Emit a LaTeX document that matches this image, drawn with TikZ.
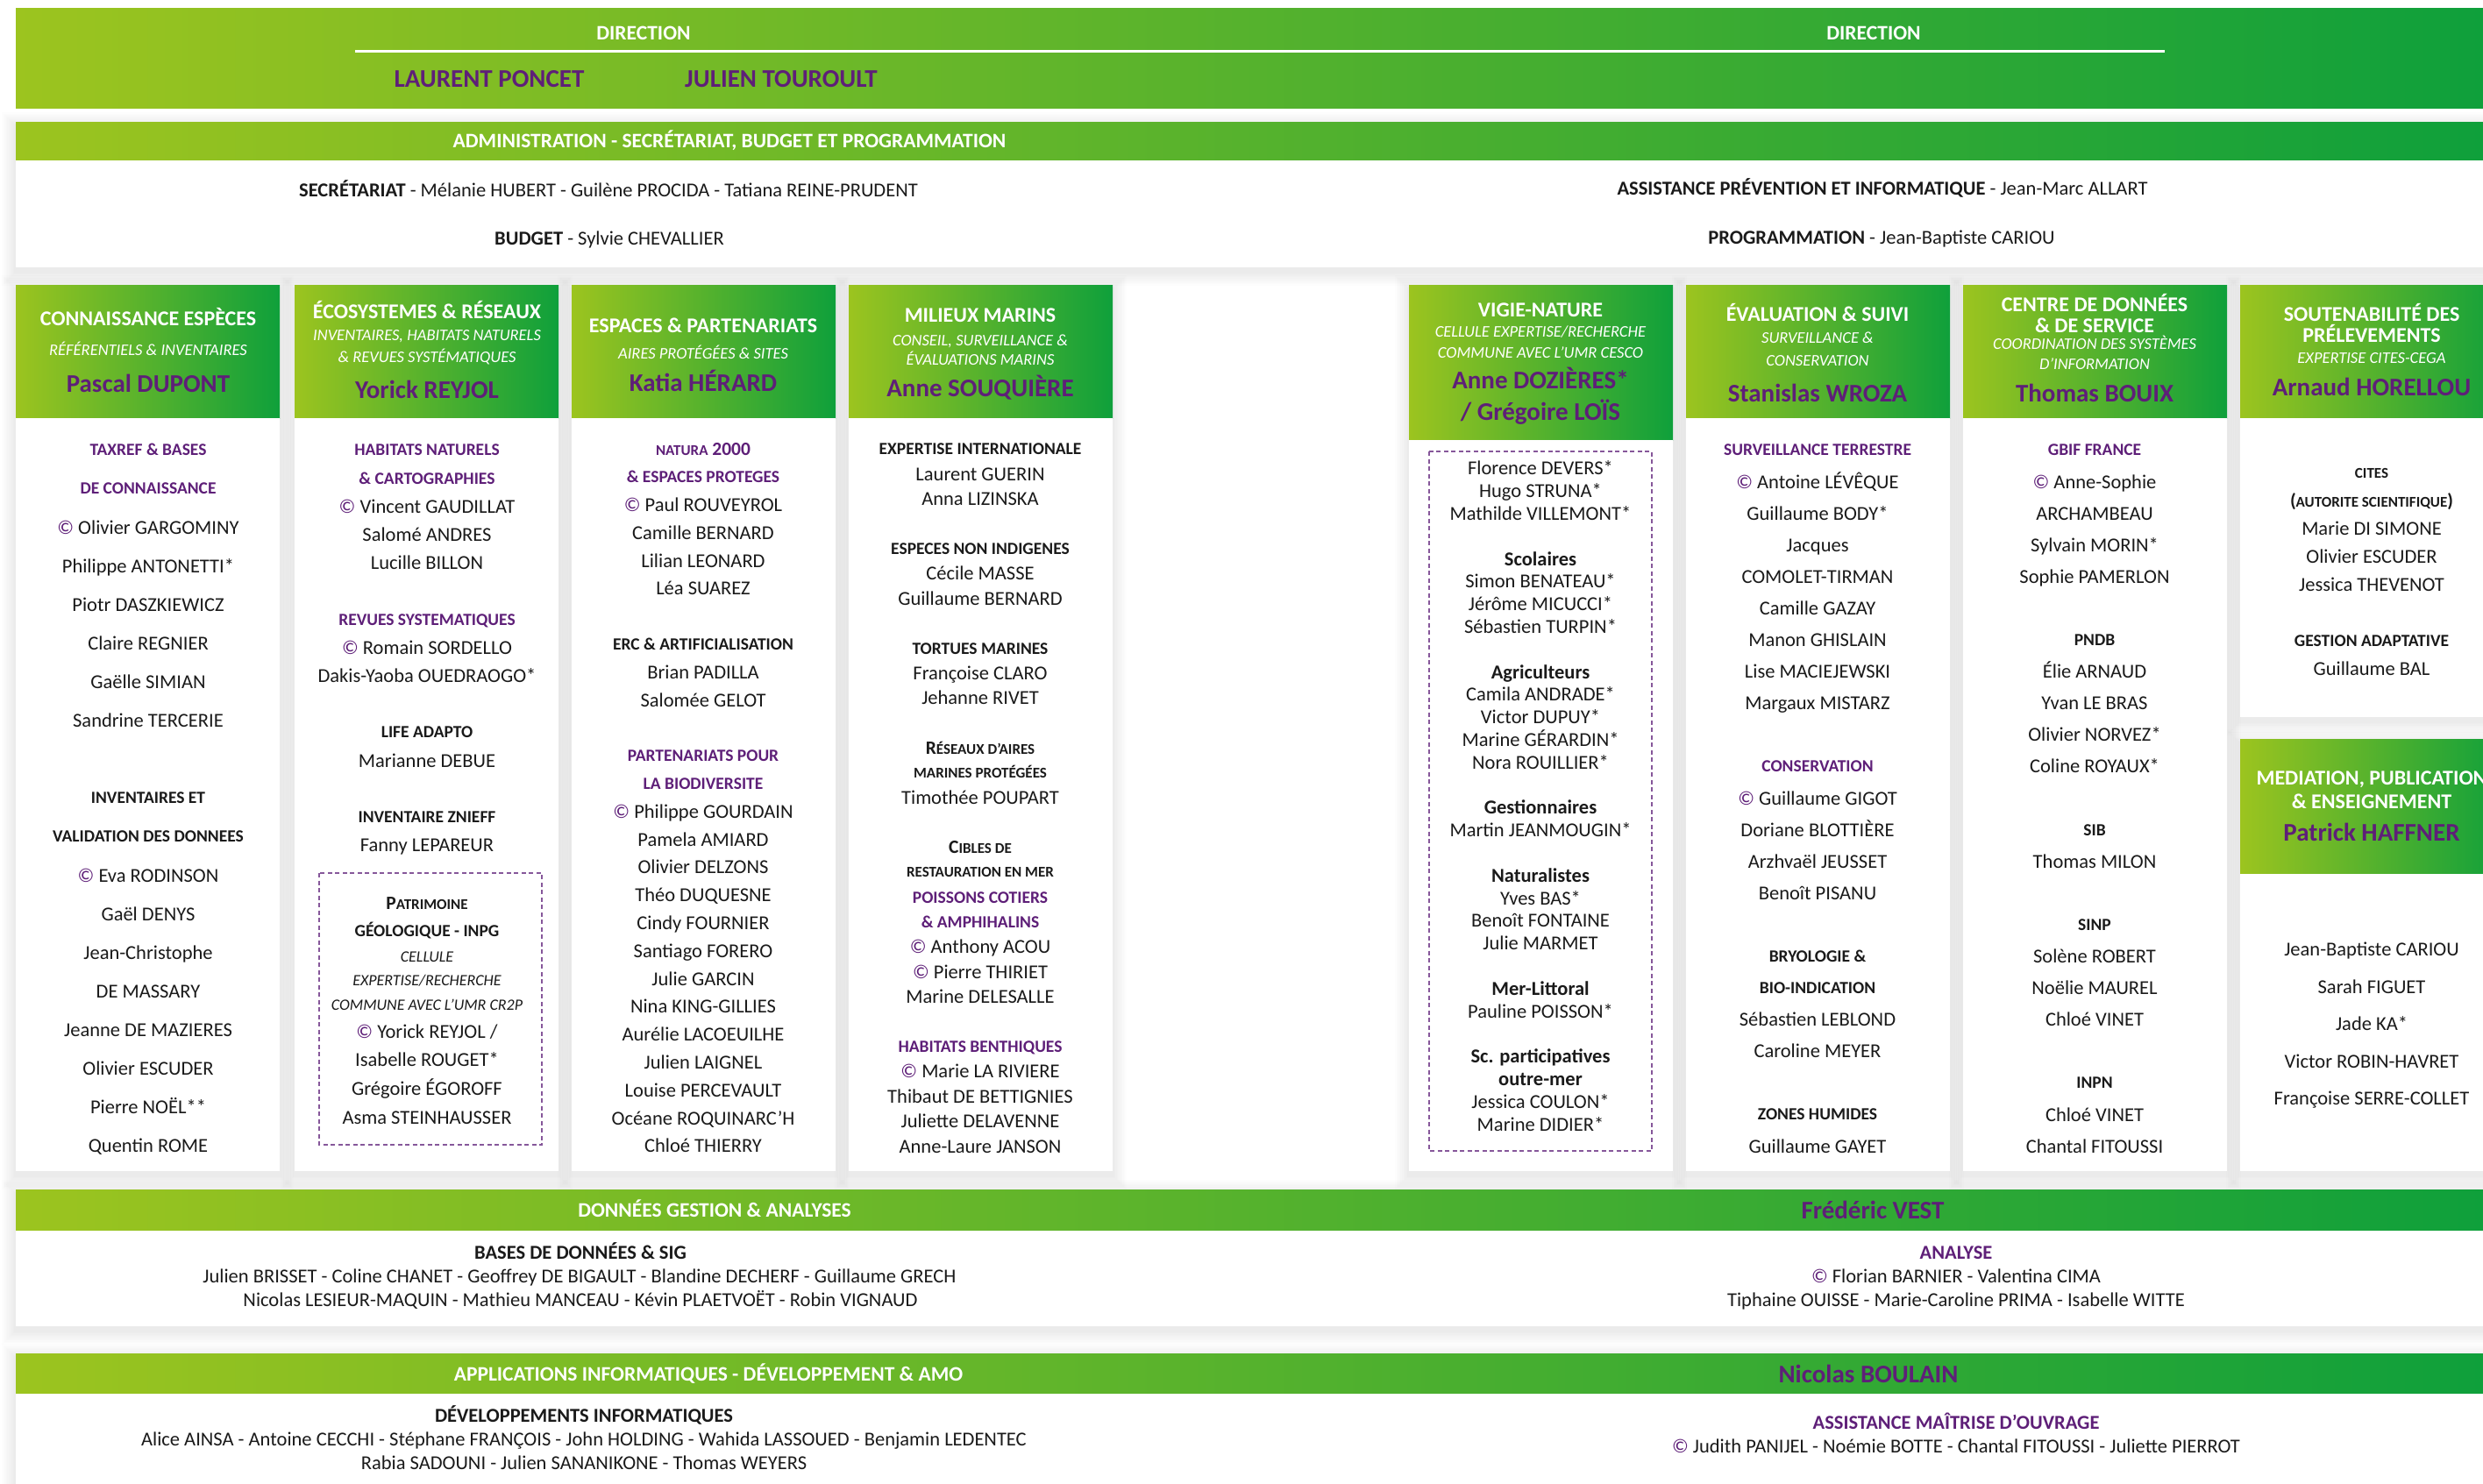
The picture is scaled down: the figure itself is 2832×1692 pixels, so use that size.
\documentclass[tikz,border=0pt]{standalone}
\usepackage{fontspec}
\setmainfont{Carlito}
\definecolor{gL}{HTML}{9CC41F}
\definecolor{gR}{HTML}{0FA03B}
\definecolor{purp}{HTML}{5E1F78}
\definecolor{txt}{HTML}{1A1A1A}
\newcommand\shd[4]{\foreach \k in {1,...,10}{\fill[black,opacity=0.008] ({#1-\k*1.6},{#2-\k*1.6+5}) rectangle ({#3+\k*1.6},{#4+\k*1.6+5});}}
\newcommand\colset[3]{\def\cX{#1}\def\cY{#2}\def\cD{#3}}
\newcommand\itm[4]{\node[#3] (#1) at (\cX,{\cY+#2*\cD}) {#4};}
\newcommand\cpr{\textcolor{purp}{©}\ }
\newcommand\sml[1]{{\fontsize{17}{20}\selectfont #1}}
\tikzset{
 tx/.style={anchor=base,inner sep=0pt,outer sep=0pt},
 nm/.style={tx,yshift=-7.9pt,font=\fontsize{22.5}{26}\selectfont,text=txt},
 sp/.style={tx,yshift=-6.8pt,font=\fontsize{19.5}{23}\selectfont\bfseries,text=purp},
 sb/.style={tx,yshift=-6.8pt,font=\fontsize{19.5}{23}\selectfont\bfseries,text=txt},
 sbL/.style={tx,yshift=-7.2pt,font=\fontsize{21.5}{25}\selectfont\bfseries,text=txt},
 spL/.style={tx,yshift=-7.2pt,font=\fontsize{21.5}{25}\selectfont\bfseries,text=purp},
 sbS/.style={tx,yshift=-6pt,font=\fontsize{17}{20}\selectfont\bfseries,text=txt},
 gl/.style={tx,yshift=-7.9pt,font=\fontsize{22.5}{26}\selectfont\bfseries,text=txt},
 it/.style={tx,yshift=-6.3pt,font=\fontsize{18}{21}\selectfont\itshape,text=txt},
 ht/.style={tx,yshift=-8.4pt,font=\fontsize{24}{28}\selectfont\bfseries,text=white},
 hs/.style={tx,yshift=-6.5pt,font=\fontsize{18.5}{22}\selectfont\itshape,text=white},
 hn/.style={tx,yshift=-10.2pt,font=\fontsize{29}{34}\selectfont\bfseries,text=purp},
 bt/.style={tx,yshift=-8.2pt,font=\fontsize{23.5}{28}\selectfont\bfseries,text=white},
 bb/.style={nm,font=\fontsize{22.5}{26}\selectfont\bfseries},
 headbox/.style={left color=gL,right color=gR},
 dbox/.style={draw=purp!75,dashed,line width=1.6pt,dash pattern=on 5pt off 3.5pt},
}
\begin{document}
\begin{tikzpicture}[x=1pt,y=-1pt]
\useasboundingbox (0,0) rectangle (2832,1692);
\clip (0,0) rectangle (2832,1692);
\fill[white] (0,0) rectangle (2832,1692);

% ---------- shadows ----------
\shd{18}{139}{2832}{305}
\foreach \x in {18,336,652,968,1607,1923,2239}{\shd{\x}{325}{\x+301}{1336}}
\shd{2555}{325}{2856}{818}
\shd{2555}{843}{2856}{1336}
\shd{18}{1357}{2832}{1513}
\shd{18}{1544}{2832}{1720}

% ---------- direction ----------
\shade[headbox] (18,9) rectangle (2832,123);
\draw[white,line width=3pt] (405,58) -- (2469,58);
\node[bt] (dirL) at (734,37) {DIRECTION};
\node[bt] (dirR) at (2137,37) {DIRECTION};
\node[hn] (lp) at (558,89) {LAURENT PONCET};
\node[hn] (jt) at (891,89) {JULIEN TOUROULT};

% ---------- administration ----------
\shade[headbox] (18,139) rectangle (2832,183);
\fill[white] (18,183) rectangle (2832,305);
\node[bt] (adm) at (832,160) {ADMINISTRATION - SECRÉTARIAT, BUDGET ET PROGRAMMATION};
\node[nm] (sec) at (694,217) {\textbf{SECRÉTARIAT} - Mélanie HUBERT - Guilène PROCIDA - Tatiana REINE-PRUDENT};
\node[nm] (bud) at (695,272) {\textbf{BUDGET} - Sylvie CHEVALLIER};
\node[nm] (api) at (2147,215) {\textbf{ASSISTANCE PRÉVENTION ET INFORMATIQUE} - Jean-Marc ALLART};
\node[nm] (prg) at (2146,271) {\textbf{PROGRAMMATION} - Jean-Baptiste CARIOU};

% ---------- column boxes ----------
\foreach \x in {18,336,652,968,1923,2239}{
  \shade[headbox] (\x,325) rectangle ({\x+301},477);
  \fill[white] (\x,477) rectangle ({\x+301},1336);
}
\shade[headbox] (1607,325) rectangle (1908,502);
\fill[white] (1607,502) rectangle (1908,1336);
\shade[headbox] (2555,325) rectangle (2856,477);
\fill[white] (2555,477) rectangle (2856,818);
\shade[headbox] (2555,843) rectangle (2856,997);
\fill[white] (2555,997) rectangle (2856,1336);
\draw[dbox] (364,996) rectangle (618,1306);
\draw[dbox] (1630,515) rectangle (1884,1313);

% ---------- column 1 ----------
\colset{169}{0}{1}
\itm{h1a}{363}{ht}{CONNAISSANCE ESPÈCES}
\itm{h1b}{399}{hs}{RÉFÉRENTIELS \& INVENTAIRES}
\itm{h1c}{437}{hn}{Pascal DUPONT}
\colset{169}{513}{44.1}
\itm{c1-0}{0}{sp}{TAXREF \& BASES}
\itm{c1-1}{1}{sp}{DE CONNAISSANCE}
\itm{c1-2}{2}{nm}{\cpr Olivier GARGOMINY}
\itm{c1-3}{3}{nm}{Philippe ANTONETTI*}
\itm{c1-4}{4}{nm}{Piotr DASZKIEWICZ}
\itm{c1-5}{5}{nm}{Claire REGNIER}
\itm{c1-6}{6}{nm}{Gaëlle SIMIAN}
\itm{c1-7}{7}{nm}{Sandrine TERCERIE}
\itm{c1-9}{9}{sb}{INVENTAIRES ET}
\itm{c1-10}{10}{sb}{VALIDATION DES DONNEES}
\itm{c1-11}{11}{nm}{\cpr Eva RODINSON}
\itm{c1-12}{12}{nm}{Gaël DENYS}
\itm{c1-13}{13}{nm}{Jean-Christophe}
\itm{c1-14}{14}{nm}{DE MASSARY}
\itm{c1-15}{15}{nm}{Jeanne DE MAZIERES}
\itm{c1-16}{16}{nm}{Olivier ESCUDER}
\itm{c1-17}{17}{nm}{Pierre NOËL**}
\itm{c1-18}{18}{nm}{Quentin ROME}

% ---------- column 2 ----------
\colset{487}{0}{1}
\itm{h2a}{355}{ht}{ÉCOSYSTEMES \& RÉSEAUX}
\itm{h2b}{382}{hs}{INVENTAIRES, HABITATS NATURELS}
\itm{h2c}{407}{hs}{\& REVUES SYSTÉMATIQUES}
\itm{h2d}{444}{hn}{Yorick REYJOL}
\colset{487}{513}{32.2}
\itm{c2-0}{0}{sp}{HABITATS NATURELS}
\itm{c2-1}{1}{sp}{\& CARTOGRAPHIES}
\itm{c2-2}{2}{nm}{\cpr Vincent GAUDILLAT}
\itm{c2-3}{3}{nm}{Salomé ANDRES}
\itm{c2-4}{4}{nm}{Lucille BILLON}
\itm{c2-6}{6}{sp}{REVUES SYSTEMATIQUES}
\itm{c2-7}{7}{nm}{\cpr Romain SORDELLO}
\itm{c2-8}{8}{nm}{Dakis-Yaoba OUEDRAOGO*}
\itm{c2-10}{10}{sb}{LIFE ADAPTO}
\itm{c2-11}{11}{nm}{Marianne DEBUE}
\itm{c2-13}{13}{sb}{INVENTAIRE ZNIEFF}
\itm{c2-14}{14}{nm}{Fanny LEPAREUR}
\colset{487}{0}{1}
\itm{c2-p1}{1030}{sbL}{P\sml{ATRIMOINE}}
\itm{c2-p2}{1062}{sb}{GÉOLOGIQUE - INPG}
\itm{c2-p3}{1091}{it}{CELLULE}
\itm{c2-p4}{1118}{it}{EXPERTISE/RECHERCHE}
\itm{c2-p5}{1146}{it}{COMMUNE AVEC L’UMR CR2P}
\itm{c2-p6}{1177}{nm}{\cpr Yorick REYJOL /}
\itm{c2-p7}{1209}{nm}{Isabelle ROUGET*}
\itm{c2-p8}{1242}{nm}{Grégoire ÉGOROFF}
\itm{c2-p9}{1275}{nm}{Asma STEINHAUSSER}

% ---------- column 3 ----------
\colset{802}{0}{1}
\itm{h3a}{371}{ht}{ESPACES \& PARTENARIATS}
\itm{h3b}{403}{hs}{AIRES PROTÉGÉES \& SITES}
\itm{h3c}{436}{hn}{Katia HÉRARD}
\colset{802}{512}{31.8}
\itm{c3-0}{0}{spL}{\sml{NATURA} 2000}
\itm{c3-1}{1}{sp}{\& ESPACES PROTEGES}
\itm{c3-2}{2}{nm}{\cpr Paul ROUVEYROL}
\itm{c3-3}{3}{nm}{Camille BERNARD}
\itm{c3-4}{4}{nm}{Lilian LEONARD}
\itm{c3-5}{5}{nm}{Léa SUAREZ}
\itm{c3-7}{7}{sb}{ERC \& ARTIFICIALISATION}
\itm{c3-8}{8}{nm}{Brian PADILLA}
\itm{c3-9}{9}{nm}{Salomée GELOT}
\itm{c3-11}{11}{sp}{PARTENARIATS POUR}
\itm{c3-12}{12}{sp}{LA BIODIVERSITE}
\itm{c3-13}{13}{nm}{\cpr Philippe GOURDAIN}
\itm{c3-14}{14}{nm}{Pamela AMIARD}
\itm{c3-15}{15}{nm}{Olivier DELZONS}
\itm{c3-16}{16}{nm}{Théo DUQUESNE}
\itm{c3-17}{17}{nm}{Cindy FOURNIER}
\itm{c3-18}{18}{nm}{Santiago FORERO}
\itm{c3-19}{19}{nm}{Julie GARCIN}
\itm{c3-20}{20}{nm}{Nina KING-GILLIES}
\itm{c3-21}{21}{nm}{Aurélie LACOEUILHE}
\itm{c3-22}{22}{nm}{Julien LAIGNEL}
\itm{c3-23}{23}{nm}{Louise PERCEVAULT}
\itm{c3-24}{24}{nm}{Océane ROQUINARC’H}
\itm{c3-25}{25}{nm}{Chloé THIERRY}

% ---------- column 4 ----------
\colset{1118}{0}{1}
\itm{h4a}{359}{ht}{MILIEUX MARINS}
\itm{h4b}{388}{hs}{CONSEIL, SURVEILLANCE \&}
\itm{h4c}{410}{hs}{ÉVALUATIONS MARINS}
\itm{h4d}{442}{hn}{Anne SOUQUIÈRE}
\colset{1118}{512}{28.4}
\itm{c4-0}{0}{sb}{EXPERTISE INTERNATIONALE}
\itm{c4-1}{1}{nm}{Laurent GUERIN}
\itm{c4-2}{2}{nm}{Anna LIZINSKA}
\itm{c4-4}{4}{sb}{ESPECES NON INDIGENES}
\itm{c4-5}{5}{nm}{Cécile MASSE}
\itm{c4-6}{6}{nm}{Guillaume BERNARD}
\itm{c4-8}{8}{sb}{TORTUES MARINES}
\itm{c4-9}{9}{nm}{Françoise CLARO}
\itm{c4-10}{10}{nm}{Jehanne RIVET}
\itm{c4-12}{12}{sbL}{R\sml{ÉSEAUX D’AIRES}}
\itm{c4-13}{13}{sbS}{MARINES PROTÉGÉES}
\itm{c4-14}{14}{nm}{Timothée POUPART}
\itm{c4-16}{16}{sbL}{C\sml{IBLES DE}}
\itm{c4-17}{17}{sbS}{RESTAURATION EN MER}
\itm{c4-18}{18}{sp}{POISSONS COTIERS}
\itm{c4-19}{19}{sp}{\& AMPHIHALINS}
\itm{c4-20}{20}{nm}{\cpr Anthony ACOU}
\itm{c4-21}{21}{nm}{\cpr Pierre THIRIET}
\itm{c4-22}{22}{nm}{Marine DELESALLE}
\itm{c4-24}{24}{sp}{HABITATS BENTHIQUES}
\itm{c4-25}{25}{nm}{\cpr Marie LA RIVIERE}
\itm{c4-26}{26}{nm}{Thibaut DE BETTIGNIES}
\itm{c4-27}{27}{nm}{Juliette DELAVENNE}
\itm{c4-28}{28}{nm}{Anne-Laure JANSON}

% ---------- column 5 ----------
\colset{1757}{0}{1}
\itm{h5a}{353}{ht}{VIGIE-NATURE}
\itm{h5b}{378}{hs}{CELLULE EXPERTISE/RECHERCHE}
\itm{h5c}{402}{hs}{COMMUNE AVEC L’UMR CESCO}
\itm{h5d}{433}{hn}{Anne DOZIÈRES*}
\itm{h5e}{469}{hn}{/ Grégoire LOÏS}
\colset{1757}{534}{25.8}
\itm{c5-0}{0}{nm}{Florence DEVERS*}
\itm{c5-1}{1}{nm}{Hugo STRUNA*}
\itm{c5-2}{2}{nm}{Mathilde VILLEMONT*}
\itm{c5-4}{4}{gl}{Scolaires}
\itm{c5-5}{5}{nm}{Simon BENATEAU*}
\itm{c5-6}{6}{nm}{Jérôme MICUCCI*}
\itm{c5-7}{7}{nm}{Sébastien TURPIN*}
\itm{c5-9}{9}{gl}{Agriculteurs}
\itm{c5-10}{10}{nm}{Camila ANDRADE*}
\itm{c5-11}{11}{nm}{Victor DUPUY*}
\itm{c5-12}{12}{nm}{Marine GÉRARDIN*}
\itm{c5-13}{13}{nm}{Nora ROUILLIER*}
\itm{c5-15}{15}{gl}{Gestionnaires}
\itm{c5-16}{16}{nm}{Martin JEANMOUGIN*}
\itm{c5-18}{18}{gl}{Naturalistes}
\itm{c5-19}{19}{nm}{Yves BAS*}
\itm{c5-20}{20}{nm}{Benoît FONTAINE}
\itm{c5-21}{21}{nm}{Julie MARMET}
\itm{c5-23}{23}{gl}{Mer-Littoral}
\itm{c5-24}{24}{nm}{Pauline POISSON*}
\itm{c5-26}{26}{gl}{Sc. participatives}
\itm{c5-27}{27}{gl}{outre-mer}
\itm{c5-28}{28}{nm}{Jessica COULON*}
\itm{c5-29}{29}{nm}{Marine DIDIER*}

% ---------- column 6 ----------
\colset{2073}{0}{1}
\itm{h6a}{358}{ht}{ÉVALUATION \& SUIVI}
\itm{h6b}{385}{hs}{SURVEILLANCE \&}
\itm{h6c}{411}{hs}{CONSERVATION}
\itm{h6d}{448}{hn}{Stanislas WROZA}
\colset{2073}{513}{36.1}
\itm{c6-0}{0}{sp}{SURVEILLANCE TERRESTRE}
\itm{c6-1}{1}{nm}{\cpr Antoine LÉVÊQUE}
\itm{c6-2}{2}{nm}{Guillaume BODY*}
\itm{c6-3}{3}{nm}{Jacques}
\itm{c6-4}{4}{nm}{COMOLET-TIRMAN}
\itm{c6-5}{5}{nm}{Camille GAZAY}
\itm{c6-6}{6}{nm}{Manon GHISLAIN}
\itm{c6-7}{7}{nm}{Lise MACIEJEWSKI}
\itm{c6-8}{8}{nm}{Margaux MISTARZ}
\itm{c6-10}{10}{sp}{CONSERVATION}
\itm{c6-11}{11}{nm}{\cpr Guillaume GIGOT}
\itm{c6-12}{12}{nm}{Doriane BLOTTIÈRE}
\itm{c6-13}{13}{nm}{Arzhvaël JEUSSET}
\itm{c6-14}{14}{nm}{Benoît PISANU}
\itm{c6-16}{16}{sb}{BRYOLOGIE \&}
\itm{c6-17}{17}{sb}{BIO-INDICATION}
\itm{c6-18}{18}{nm}{Sébastien LEBLOND}
\itm{c6-19}{19}{nm}{Caroline MEYER}
\itm{c6-21}{21}{sb}{ZONES HUMIDES}
\itm{c6-22}{22}{nm}{Guillaume GAYET}

% ---------- column 7 ----------
\colset{2389}{0}{1}
\itm{h7a}{347}{ht}{CENTRE DE DONNÉES}
\itm{h7b}{371}{ht}{\& DE SERVICE}
\itm{h7c}{392}{hs}{COORDINATION DES SYSTÈMES}
\itm{h7d}{415}{hs}{D’INFORMATION}
\itm{h7e}{448}{hn}{Thomas BOUIX}
\colset{2389}{513}{36.1}
\itm{c7-0}{0}{sp}{GBIF FRANCE}
\itm{c7-1}{1}{nm}{\cpr Anne-Sophie}
\itm{c7-2}{2}{nm}{ARCHAMBEAU}
\itm{c7-3}{3}{nm}{Sylvain MORIN*}
\itm{c7-4}{4}{nm}{Sophie PAMERLON}
\itm{c7-6}{6}{sb}{PNDB}
\itm{c7-7}{7}{nm}{Élie ARNAUD}
\itm{c7-8}{8}{nm}{Yvan LE BRAS}
\itm{c7-9}{9}{nm}{Olivier NORVEZ*}
\itm{c7-10}{10}{nm}{Coline ROYAUX*}
\itm{c7-12}{12}{sb}{SIB}
\itm{c7-13}{13}{nm}{Thomas MILON}
\itm{c7-15}{15}{sb}{SINP}
\itm{c7-16}{16}{nm}{Solène ROBERT}
\itm{c7-17}{17}{nm}{Noëlie MAUREL}
\itm{c7-18}{18}{nm}{Chloé VINET}
\itm{c7-20}{20}{sb}{INPN}
\itm{c7-21}{21}{nm}{Chloé VINET}
\itm{c7-22}{22}{nm}{Chantal FITOUSSI}

% ---------- column 8 ----------
\colset{2705}{0}{1}
\itm{h8a}{358}{ht}{SOUTENABILITÉ DES}
\itm{h8b}{382}{ht}{PRÉLEVEMENTS}
\itm{h8c}{408}{hs}{EXPERTISE CITES-CEGA}
\itm{h8d}{441}{hn}{Arnaud HORELLOU}
\colset{2705}{539}{32}
\itm{c8-0}{0}{sbS}{CITES}
\itm{c8-1}{1}{sbL}{(\sml{AUTORITE SCIENTIFIQUE})}
\itm{c8-2}{2}{nm}{Marie DI SIMONE}
\itm{c8-3}{3}{nm}{Olivier ESCUDER}
\itm{c8-4}{4}{nm}{Jessica THEVENOT}
\itm{c8-6}{6}{sb}{GESTION ADAPTATIVE}
\itm{c8-7}{7}{nm}{Guillaume BAL}
\colset{2705}{0}{1}
\itm{h9a}{887}{ht}{MEDIATION, PUBLICATION}
\itm{h9b}{914}{ht}{\& ENSEIGNEMENT}
\itm{h9c}{949}{hn}{Patrick HAFFNER}
\colset{2705}{1083}{42.5}
\itm{c9-0}{0}{nm}{Jean-Baptiste CARIOU}
\itm{c9-1}{1}{nm}{Sarah FIGUET}
\itm{c9-2}{2}{nm}{Jade KA*}
\itm{c9-3}{3}{nm}{Victor ROBIN-HAVRET}
\itm{c9-4}{4}{nm}{Françoise SERRE-COLLET}

% ---------- données ----------
\shade[headbox] (18,1357) rectangle (2832,1404);
\fill[white] (18,1404) rectangle (2832,1513);
\node[bt] (dga) at (815,1380) {DONNÉES GESTION \& ANALYSES};
\node[hn] (fv) at (2136,1380) {Frédéric VEST};
\node[bb] (bds) at (662,1429) {BASES DE DONNÉES \& SIG};
\node[nm] (bds1) at (661,1456) {Julien BRISSET - Coline CHANET - Geoffrey DE BIGAULT - Blandine DECHERF - Guillaume GRECH};
\node[nm] (bds2) at (662,1483) {Nicolas LESIEUR-MAQUIN - Mathieu MANCEAU - Kévin PLAETVOËT - Robin VIGNAUD};
\node[bb,text=purp] (ana) at (2231,1429) {ANALYSE};
\node[nm] (ana1) at (2231,1456) {\cpr Florian BARNIER - Valentina CIMA};
\node[nm] (ana2) at (2231,1483) {Tiphaine OUISSE - Marie-Caroline PRIMA - Isabelle WITTE};

% ---------- applications ----------
\shade[headbox] (18,1544) rectangle (2832,1590);
\fill[white] (18,1590) rectangle (2832,1720);
\node[bt] (app) at (808,1567) {APPLICATIONS INFORMATIQUES - DÉVELOPPEMENT \& AMO};
\node[hn] (nb) at (2131,1567) {Nicolas BOULAIN};
\node[bb] (dev) at (666,1615) {DÉVELOPPEMENTS INFORMATIQUES};
\node[nm] (dev1) at (666,1642) {Alice AINSA - Antoine CECCHI - Stéphane FRANÇOIS - John HOLDING - Wahida LASSOUED - Benjamin LEDENTEC};
\node[nm] (dev2) at (666,1669) {Rabia SADOUNI - Julien SANANIKONE - Thomas WEYERS};
\node[bb,text=purp] (amo) at (2231,1623) {ASSISTANCE MAÎTRISE D’OUVRAGE};
\node[nm] (amo1) at (2231,1650) {\cpr Judith PANIJEL - Noémie BOTTE - Chantal FITOUSSI - Juliette PIERROT};
\end{tikzpicture}
\end{document}
